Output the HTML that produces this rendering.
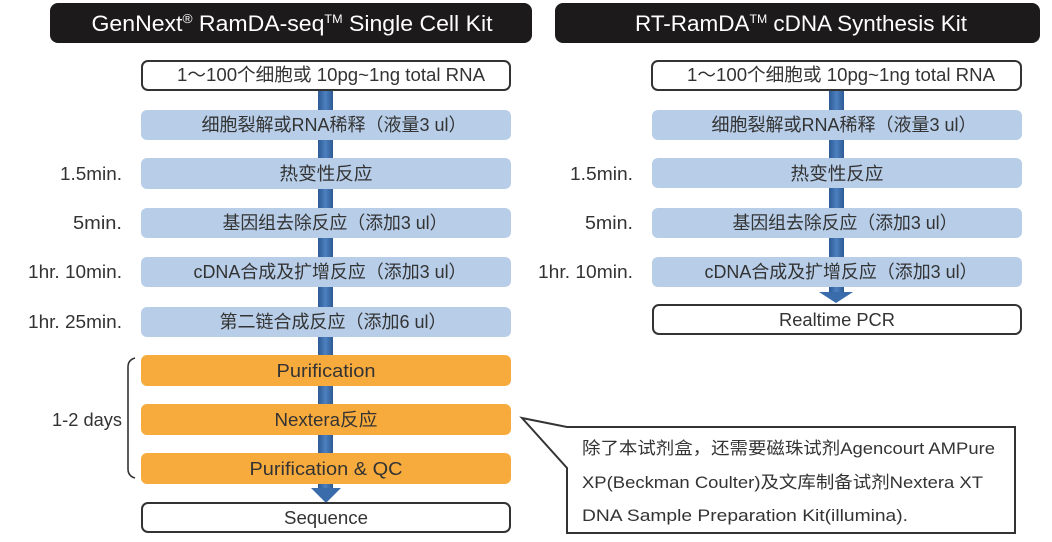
<!DOCTYPE html>
<html>
<head>
<meta charset="utf-8">
<style>
html,body{margin:0;padding:0;background:#fff;}
svg{display:block;}
text{font-family:"Liberation Sans","Noto Sans CJK SC",sans-serif;fill:#333;}
</style>
</head>
<body>
<svg width="1052" height="542" viewBox="0 0 1052 542" xmlns="http://www.w3.org/2000/svg">
<defs>
<linearGradient id="bar" x1="0" y1="0" x2="1" y2="0">
<stop offset="0" stop-color="#2d5a94"/>
<stop offset="0.5" stop-color="#4c80c0"/>
<stop offset="1" stop-color="#2d5a94"/>
</linearGradient>
</defs>

<!-- Headers -->
<rect x="50" y="3" width="482" height="40" rx="8" fill="#1c1a1a"/>
<text x="292" y="31" font-size="22" text-anchor="middle" style="fill:#fff" textLength="401" lengthAdjust="spacingAndGlyphs">GenNext<tspan font-size="13" dy="-8">®</tspan><tspan dy="8"> RamDA-seq</tspan><tspan font-size="12" dy="-8">TM</tspan><tspan dy="8">  Single Cell Kit</tspan></text>

<rect x="555" y="3" width="485" height="40" rx="8" fill="#1c1a1a"/>
<text x="801" y="31" font-size="22" text-anchor="middle" style="fill:#fff" textLength="332" lengthAdjust="spacingAndGlyphs">RT-RamDA<tspan font-size="12" dy="-8">TM</tspan><tspan dy="8"> cDNA Synthesis Kit</tspan></text>

<!-- Left bar + arrow -->
<rect x="318" y="91" width="15" height="398" fill="url(#bar)"/>
<polygon points="311,488 341,488 326,503" fill="#3a6cab"/>

<!-- Right bar + arrow -->
<rect x="829" y="91" width="15" height="202" fill="url(#bar)"/>
<polygon points="819,292 853,292 836,303" fill="#3a6cab"/>

<!-- Left column boxes -->
<rect x="142" y="61" width="368" height="29" rx="6" fill="#fff" stroke="#333" stroke-width="2"/>
<text x="331" y="81" font-size="18" text-anchor="middle" textLength="308" lengthAdjust="spacingAndGlyphs">1～100个细胞或 10pg~1ng total RNA</text>

<rect x="141" y="110" width="370" height="30" rx="6" fill="#b7cde8"/>
<text x="334" y="131" font-size="18" text-anchor="middle" textLength="265" lengthAdjust="spacingAndGlyphs">细胞裂解或RNA稀释（液量3 ul）</text>

<rect x="141" y="158" width="370" height="31" rx="6" fill="#b7cde8"/>
<text x="326" y="180" font-size="18" text-anchor="middle" textLength="93" lengthAdjust="spacingAndGlyphs">热变性反应</text>

<rect x="141" y="208" width="370" height="30" rx="6" fill="#b7cde8"/>
<text x="335" y="229" font-size="18" text-anchor="middle" textLength="225" lengthAdjust="spacingAndGlyphs">基因组去除反应（添加3 ul）</text>

<rect x="141" y="257" width="370" height="30" rx="6" fill="#b7cde8"/>
<text x="330" y="278" font-size="18" text-anchor="middle" textLength="273" lengthAdjust="spacingAndGlyphs">cDNA合成及扩增反应（添加3 ul）</text>

<rect x="141" y="307" width="370" height="30" rx="6" fill="#b7cde8"/>
<text x="333" y="328" font-size="18" text-anchor="middle" textLength="227" lengthAdjust="spacingAndGlyphs">第二链合成反应（添加6 ul）</text>

<rect x="141" y="355" width="370" height="31" rx="6" fill="#f8ab3d"/>
<text x="326" y="377" font-size="18" text-anchor="middle" textLength="99" lengthAdjust="spacingAndGlyphs">Purification</text>

<rect x="141" y="404" width="370" height="31" rx="6" fill="#f8ab3d"/>
<text x="326" y="426" font-size="18" text-anchor="middle" textLength="103" lengthAdjust="spacingAndGlyphs">Nextera反应</text>

<rect x="141" y="453" width="370" height="31" rx="6" fill="#f8ab3d"/>
<text x="326" y="475" font-size="18" text-anchor="middle" textLength="153" lengthAdjust="spacingAndGlyphs">Purification &amp; QC</text>

<rect x="142" y="503" width="368" height="29" rx="6" fill="#fff" stroke="#333" stroke-width="2"/>
<text x="326" y="524" font-size="18" text-anchor="middle" textLength="84" lengthAdjust="spacingAndGlyphs">Sequence</text>

<!-- Left labels -->
<text x="122" y="180" font-size="18" text-anchor="end" textLength="62" lengthAdjust="spacingAndGlyphs">1.5min.</text>
<text x="122" y="229" font-size="18" text-anchor="end" textLength="49" lengthAdjust="spacingAndGlyphs">5min.</text>
<text x="122" y="278" font-size="18" text-anchor="end" textLength="94" lengthAdjust="spacingAndGlyphs">1hr. 10min.</text>
<text x="122" y="328" font-size="18" text-anchor="end" textLength="94" lengthAdjust="spacingAndGlyphs">1hr. 25min.</text>
<text x="122" y="426" font-size="18" text-anchor="end" textLength="70" lengthAdjust="spacingAndGlyphs">1-2 days</text>

<!-- Bracket -->
<path d="M135,358 Q128,360 128,367 L128,469 Q128,476 135,478" fill="none" stroke="#333" stroke-width="1.6"/>

<!-- Right column boxes -->
<rect x="652" y="61" width="369" height="29" rx="6" fill="#fff" stroke="#333" stroke-width="2"/>
<text x="841" y="81" font-size="18" text-anchor="middle" textLength="308" lengthAdjust="spacingAndGlyphs">1～100个细胞或 10pg~1ng total RNA</text>

<rect x="652" y="110" width="370" height="30" rx="6" fill="#b7cde8"/>
<text x="844" y="131" font-size="18" text-anchor="middle" textLength="265" lengthAdjust="spacingAndGlyphs">细胞裂解或RNA稀释（液量3 ul）</text>

<rect x="652" y="158" width="370" height="30" rx="6" fill="#b7cde8"/>
<text x="837" y="180" font-size="18" text-anchor="middle" textLength="93" lengthAdjust="spacingAndGlyphs">热变性反应</text>

<rect x="652" y="208" width="370" height="30" rx="6" fill="#b7cde8"/>
<text x="845" y="229" font-size="18" text-anchor="middle" textLength="225" lengthAdjust="spacingAndGlyphs">基因组去除反应（添加3 ul）</text>

<rect x="652" y="257" width="370" height="30" rx="6" fill="#b7cde8"/>
<text x="841" y="278" font-size="18" text-anchor="middle" textLength="273" lengthAdjust="spacingAndGlyphs">cDNA合成及扩增反应（添加3 ul）</text>

<rect x="653" y="305" width="368" height="29" rx="6" fill="#fff" stroke="#333" stroke-width="2"/>
<text x="837" y="326" font-size="18" text-anchor="middle" textLength="116" lengthAdjust="spacingAndGlyphs">Realtime PCR</text>

<!-- Right labels -->
<text x="633" y="180" font-size="18" text-anchor="end" textLength="63" lengthAdjust="spacingAndGlyphs">1.5min.</text>
<text x="633" y="229" font-size="18" text-anchor="end" textLength="48" lengthAdjust="spacingAndGlyphs">5min.</text>
<text x="633" y="278" font-size="18" text-anchor="end" textLength="95" lengthAdjust="spacingAndGlyphs">1hr. 10min.</text>

<!-- Callout -->
<polygon points="522,418 567,427 1015,427 1015,533 567,533 567,468" fill="#fff" stroke="#333" stroke-width="2" stroke-linejoin="miter"/>
<text x="582" y="454" font-size="17" textLength="413" lengthAdjust="spacingAndGlyphs">除了本试剂盒，还需要磁珠试剂Agencourt AMPure</text>
<text x="582" y="488" font-size="17" textLength="401" lengthAdjust="spacingAndGlyphs">XP(Beckman Coulter)及文库制备试剂Nextera XT</text>
<text x="582" y="521" font-size="17" textLength="326" lengthAdjust="spacingAndGlyphs">DNA Sample Preparation Kit(illumina).</text>
</svg>
</body>
</html>
